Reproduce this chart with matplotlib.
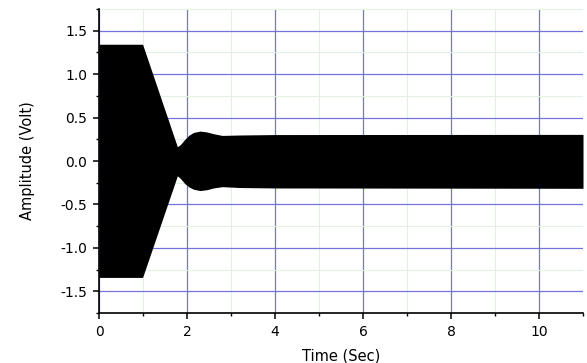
import numpy as np
import matplotlib.pyplot as plt
from matplotlib.ticker import MultipleLocator

plt.rcParams['font.family'] = ['DejaVu Sans']

# envelope of the dense oscillation
t = [0.0, 0.99, 1.78, 1.85, 1.95, 2.05, 2.15, 2.3, 2.45, 2.6, 2.8, 3.2, 4.0, 11.0]
upper = [1.345, 1.345, 0.165, 0.19, 0.25, 0.30, 0.33, 0.345, 0.335, 0.315, 0.295, 0.30, 0.305, 0.307]
lower = [-1.34, -1.34, -0.17, -0.20, -0.26, -0.30, -0.325, -0.34, -0.33, -0.31, -0.295, -0.305, -0.31, -0.314]

fig = plt.figure(figsize=(5.87, 3.63), dpi=100)
ax = fig.add_axes([0.1687, 0.1377, 0.8245, 0.8373])

ax.fill_between(t, lower, upper, color='black', linewidth=0, zorder=3)

ax.set_xlim(0, 11)
ax.set_ylim(-1.75, 1.75)
ax.xaxis.set_major_locator(MultipleLocator(2))
ax.xaxis.set_minor_locator(MultipleLocator(1))
ax.yaxis.set_minor_locator(MultipleLocator(0.25))
ax.set_yticks([-1.5, -1.0, -0.5, 0.0, 0.5, 1.0, 1.5])
ax.set_yticklabels(['-1.5', '-1.0', '-0.5', '0.0', '0.5', '1.0', '1.5'])

ax.grid(which='major', color='#7272e0', linewidth=0.9, zorder=1)
ax.grid(which='minor', color='#e4f0e4', linewidth=0.8, zorder=0)
ax.set_axisbelow(True)

for s in ['top', 'right']:
    ax.spines[s].set_visible(False)
for s in ['left', 'bottom']:
    ax.spines[s].set_linewidth(1.2)
    ax.spines[s].set_zorder(5)

ax.tick_params(which='major', direction='out', length=4, width=1.1, labelsize=10, pad=4.5)
ax.tick_params(which='minor', direction='out', length=2.5, width=1.0)

ax.set_xlabel('Time (Sec)', fontsize=10.5, labelpad=7)
ax.set_ylabel('Amplitude (Volt)', fontsize=10.5, labelpad=18)

fig.savefig('out.png', dpi=100)
